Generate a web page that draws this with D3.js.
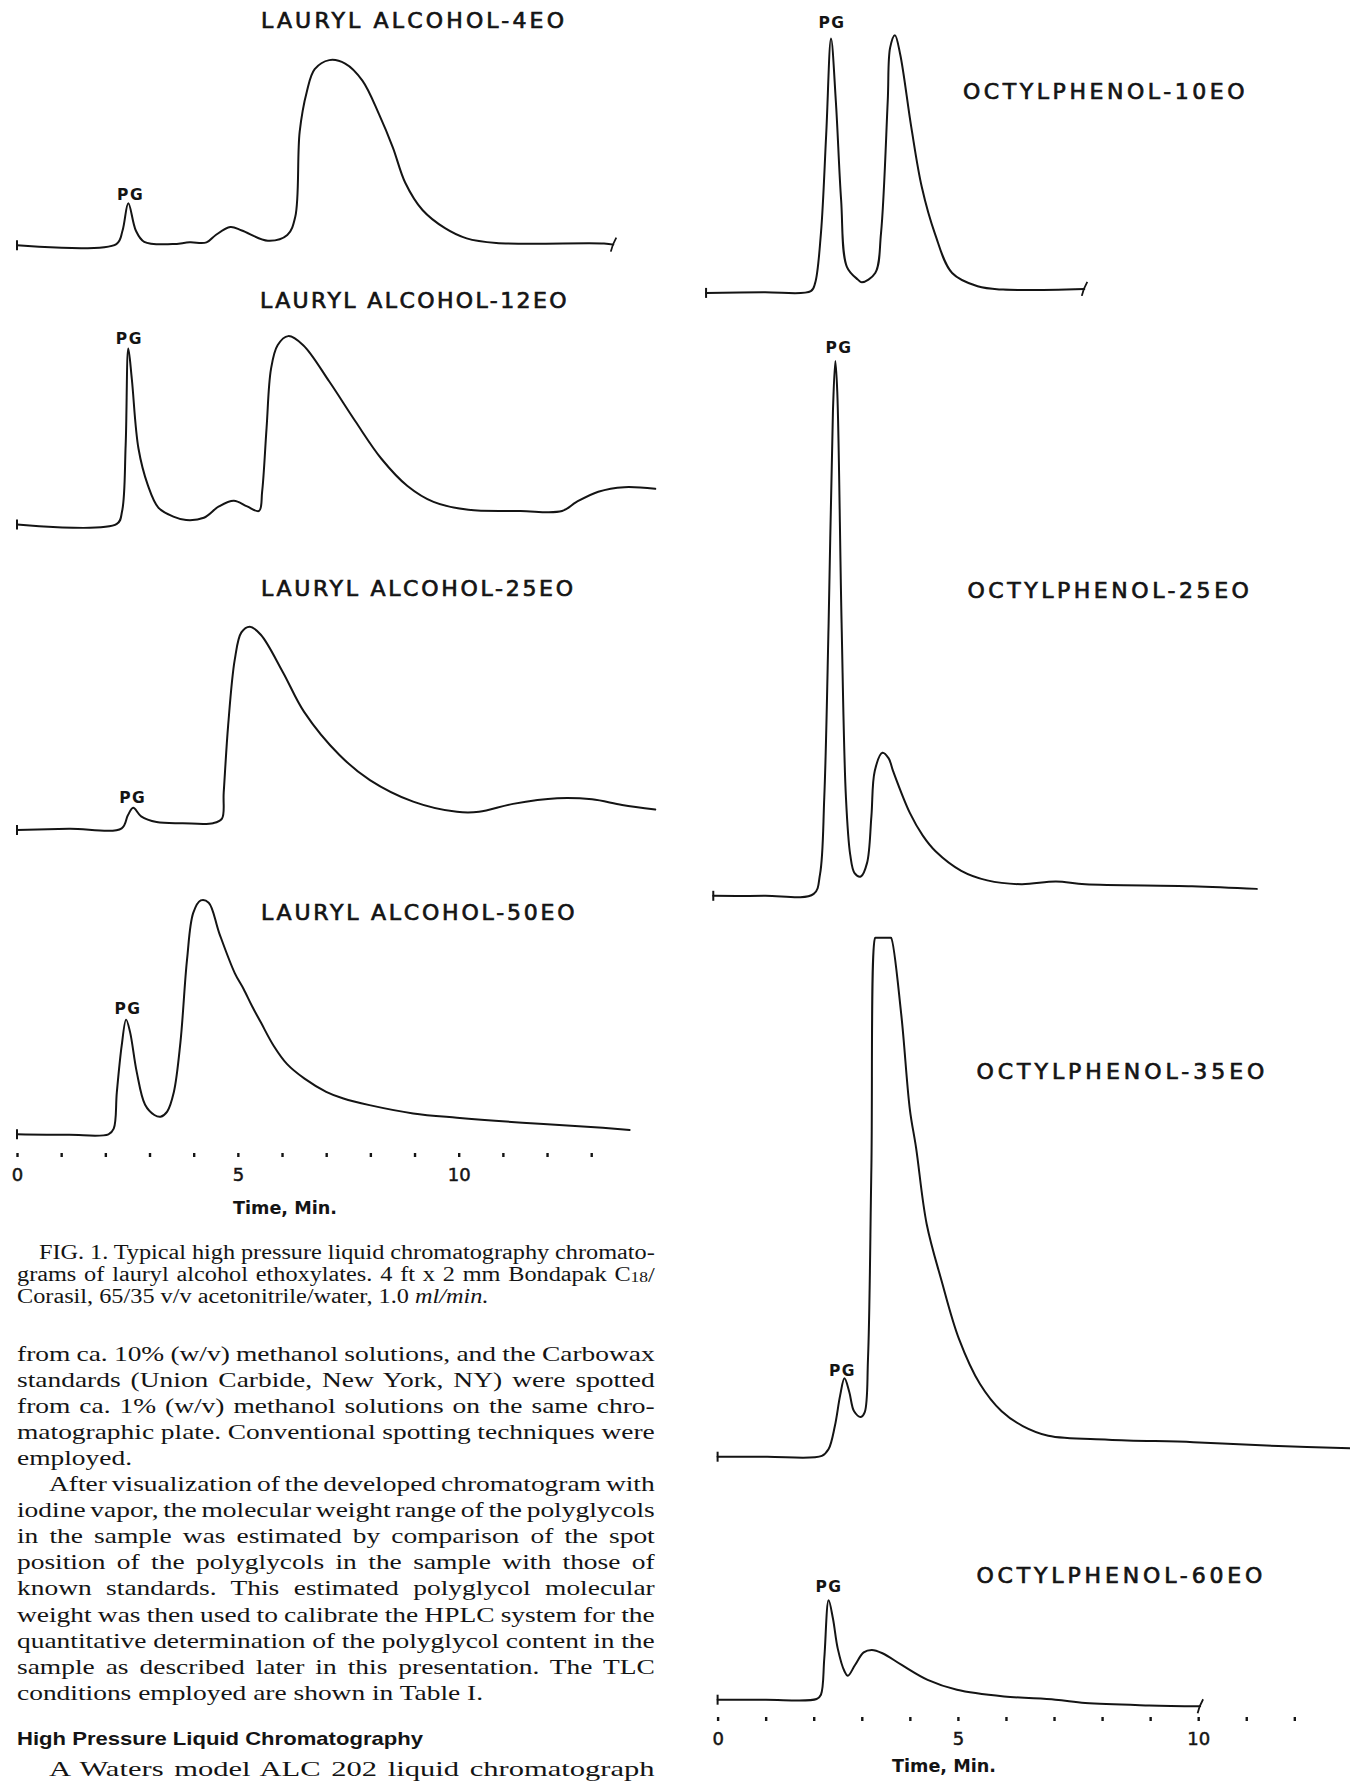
<!DOCTYPE html>
<html><head><meta charset="utf-8">
<script src="https://cdn.jsdelivr.net/npm/d3@7"></script>
<style>body{margin:0;background:#fff}svg{display:block}</style>
</head><body>
<script>
// ---------------- DATA : [time (min), detector response (arbitrary units)] ----------------
const la4EO = [[0,0],[2.25,1],[2.39,13],[2.52,37],[2.69,13],[2.88,3],[3.52,1],[3.91,2.5],[4.29,2.5],[4.50,9],[4.83,16],[5.09,13],[5.68,4],[6.12,9],[6.30,25],[6.40,100],[6.56,135],[6.74,155],[7.07,163],[7.43,160],[7.82,145],[8.20,115],[8.51,86],[8.79,55],[9.18,31],[9.69,15],[10.18,6],[10.85,2],[13.29,1.5],[13.50,0.5]];
const la12EO = [[0,0],[2.26,0.6],[2.38,12],[2.46,70],[2.52,155],[2.60,128],[2.75,67],[2.96,35],[3.20,15],[3.54,7],[3.83,4],[4.23,6],[4.57,16],[4.91,21],[5.21,16],[5.48,12],[5.55,29],[5.65,85],[5.75,137],[5.90,158],[6.14,166],[6.48,158],[7.07,126],[7.66,91],[8.25,58],[8.84,34],[9.43,20],[10.22,13],[11.40,12],[12.34,12],[12.67,20],[13.16,29],[13.75,33],[14.45,31.5]];
const la25EO = [[0,0],[1.18,1],[2.37,1.5],[2.51,13],[2.63,19.5],[2.81,12],[3.16,7],[3.75,6],[4.44,6],[4.64,10],[4.68,33],[4.78,92],[4.93,150],[5.08,174],[5.27,179],[5.52,172],[6.02,139],[6.50,104],[7.30,66],[7.99,44],[8.97,25],[9.96,16],[10.46,16],[11.23,23],[12.23,28],[13.02,27],[13.70,22],[14.45,18]];
const la50EO = [[0,0],[1.18,-0.5],[2.07,0],[2.19,5],[2.26,37],[2.37,78],[2.47,101],[2.56,90],[2.71,55],[2.90,26],[3.11,17],[3.25,15.5],[3.40,20],[3.55,37],[3.70,81],[3.85,154],[3.99,195],[4.16,206],[4.34,204],[4.58,177],[4.93,142],[5.13,128],[5.32,113],[5.52,98.6],[5.81,78],[6.11,62],[6.51,49],[7.00,37.4],[7.39,31.5],[7.98,25.7],[8.97,18.4],[9.96,14.6],[11.44,10.2],[12.90,6.7],[13.87,3.8]];
const op10EO = [[-0.24,0],[0.96,0.6],[1.94,1.5],[2.03,8.8],[2.15,52.5],[2.26,140],[2.36,224],[2.46,169],[2.57,82],[2.69,23],[2.92,11.7],[3.00,9.3],[3.28,17.5],[3.40,52.5],[3.54,169],[3.59,216],[3.69,227],[3.80,210],[4.03,146],[4.25,93],[4.52,52.5],[4.88,17.5],[5.41,5.8],[5.94,2.9],[7.63,3.5]];
const op25EO = [[-0.09,0],[0.97,0],[2.00,1.7],[2.13,18.7],[2.22,87],[2.31,240],[2.40,427],[2.45,471],[2.49,444],[2.58,240],[2.67,87],[2.76,36],[2.85,20],[2.98,17],[3.11,29],[3.20,70],[3.27,110],[3.43,126],[3.56,121],[3.65,110],[4.00,73],[4.27,53],[4.54,39],[5.07,22],[5.61,13.6],[6.32,10.2],[7.04,12.6],[7.65,10.2],[9.87,8.5],[11.22,6.1]];
const op35EO = [[0,0],[1.02,0],[2.17,0.7],[2.31,6.7],[2.44,27],[2.55,54],[2.64,69],[2.74,57],[2.84,40],[2.98,35],[3.06,39],[3.13,87],[3.20,255],[3.28,457],[3.30,457],[3.45,457],[3.59,457],[3.61,457],[3.82,390],[4.00,306],[4.13,272],[4.35,205],[4.66,155],[5.02,104],[5.46,64],[5.91,40],[6.35,27],[6.88,18.5],[8.13,15],[9.90,12.8],[11.67,9.4],[13.17,7.4]];
const op60EO = [[0,0],[0.99,0],[2.06,0.6],[2.15,4.4],[2.22,36.5],[2.31,87.5],[2.40,71.5],[2.50,45],[2.64,25],[2.71,21],[2.86,30.6],[3.04,41.7],[3.21,43.8],[3.43,40.9],[3.83,30.6],[4.37,17.5],[4.98,8.8],[5.96,2.9],[7.03,0],[7.65,-2.9],[8.98,-5],[10.04,-5.8]];

const leftTicks = d3.range(0, 14);
const rightTicks = d3.range(0, 13);
const tickLabelValues = [0, 5, 10];
const seriesNames = ["LAURYL ALCOHOL-4EO","LAURYL ALCOHOL-12EO","LAURYL ALCOHOL-25EO","LAURYL ALCOHOL-50EO",
                     "OCTYLPHENOL-10EO","OCTYLPHENOL-25EO","OCTYLPHENOL-35EO","OCTYLPHENOL-60EO"];
const peakLabel = "PG";
const axisTitle = "Time, Min.";

const captionLines = [
  [{t:"FIG. 1. Typical high pressure liquid chromatography chromato-"}],
  [{t:"grams of lauryl alcohol ethoxylates. 4 ft x 2 mm Bondapak C"},{t:"18",small:true},{t:"/"}],
  [{t:"Corasil, 65/35 v/v acetonitrile/water, 1.0 "},{t:"ml/min.",it:true}]
];
const captionJust = [true, true, false];
const bodyLines = [
  "from ca. 10% (w/v) methanol solutions, and the Carbowax",
  "standards (Union Carbide, New York, NY) were spotted",
  "from ca. 1% (w/v) methanol solutions on the same chro-",
  "matographic plate. Conventional spotting techniques were",
  "employed.",
  "After visualization of the developed chromatogram with",
  "iodine vapor, the molecular weight range of the polyglycols",
  "in the sample was estimated by comparison of the spot",
  "position of the polyglycols in the sample with those of",
  "known standards. This estimated polyglycol molecular",
  "weight was then used to calibrate the HPLC system for the",
  "quantitative determination of the polyglycol content in the",
  "sample as described later in this presentation. The TLC",
  "conditions employed are shown in Table I."
];
const bodyJust = [true,true,true,true,false,true,true,true,true,true,true,true,true,false];
const bodyIndent = [false,false,false,false,false,true,false,false,false,false,false,false,false,false];
const heading = "High Pressure Liquid Chromatography";
const lastLine = "A Waters model ALC 202 liquid chromatograph";

// ---------------- LAYOUT ----------------
const W = 1350, H = 1781, INK = "#141414";
const svg = d3.select("body").append("svg").attr("width", W).attr("height", H)
  .style("background", "#fff");

const xLeft = d3.scaleLinear().domain([0, 10]).range([17, 458.7]);
const xRight = d3.scaleLinear().domain([0, 10]).range([717.6, 1198.2]);
const gain = d3.scaleLinear().domain([0, 100]).range([0, 113.54]);

const panels = [
  {name:seriesNames[0], data:la4EO,  x:xLeft,  base:245.2,  tx:261,   tw:303,   ty:20.4,  pg:[130.6,194],  endSlash:true},
  {name:seriesNames[1], data:la12EO, x:xLeft,  base:524.6,  tx:260,   tw:306.6, ty:299.7, pg:[129.4,338]},
  {name:seriesNames[2], data:la25EO, x:xLeft,  base:830,    tx:261,   tw:312,   ty:588,   pg:[132.8,797]},
  {name:seriesNames[3], data:la50EO, x:xLeft,  base:1134.3, tx:261,   tw:313.5, ty:911.7, pg:[128,1008]},
  {name:seriesNames[4], data:op10EO, x:xRight, base:292.9,  tx:963,   tw:281.6, ty:90.8,  pg:[832,22.7],  endSlash:true},
  {name:seriesNames[5], data:op25EO, x:xRight, base:895.8,  tx:967.4, tw:281.5, ty:590,   pg:[839,347.4]},
  {name:seriesNames[6], data:op35EO, x:xRight, base:1456.7, tx:976.4, tw:288,   ty:1071,  pg:[842.5,1370]},
  {name:seriesNames[7], data:op60EO, x:xRight, base:1699.7, tx:976.4, tw:286,   ty:1575,  pg:[829,1586], endSlash:true}
];

panels.forEach(p => {
  const yOf = v => p.base - gain(v);
  const line = d3.line().x(d => p.x(d[0])).y(d => yOf(d[1])).curve(d3.curveCatmullRom.alpha(0.5));
  const g = svg.append("g");
  g.append("path").attr("d", line(p.data)).attr("fill","none")
    .attr("stroke", INK).attr("stroke-width", 2).attr("stroke-linejoin","round").attr("stroke-linecap","round");
  // start mark
  const s = p.data[0];
  g.append("line").attr("x1", p.x(s[0])).attr("x2", p.x(s[0]))
    .attr("y1", yOf(s[1]) - 5).attr("y2", yOf(s[1]) + 5)
    .attr("stroke", INK).attr("stroke-width", 2);
  if (p.endSlash) {
    const e = p.data[p.data.length - 1];
    const ex = p.x(e[0]), ey = yOf(e[1]);
    g.append("path").attr("d", `M${ex-2.5},${ey+7} Q${ex-1},${ey} ${ex+3},${ey-7}`)
      .attr("fill","none").attr("stroke", INK).attr("stroke-width", 1.8);
  }
  // title
  g.append("text").attr("x", p.tx).attr("y", p.ty + 8)
    .attr("font-family","DejaVu Sans").attr("font-size", 22)
    .attr("fill", INK).attr("stroke", INK).attr("stroke-width", 0.7)
    .attr("textLength", p.tw).attr("lengthAdjust","spacing")
    .text(p.name);
  // PG
  g.append("text").attr("x", p.pg[0]).attr("y", p.pg[1] + 5.5)
    .attr("text-anchor","middle").attr("font-family","DejaVu Sans").attr("font-weight","bold")
    .attr("font-size", 15.5).attr("letter-spacing", 1.5).attr("fill", INK)
    .text(peakLabel);
});

// axes
function drawAxis(scale, ticks, y, titleX, titleY) {
  const ax = d3.axisBottom(scale).tickValues(ticks).tickSize(4).tickPadding(11)
    .tickFormat(d => tickLabelValues.includes(d) ? String(d) : "");
  const g = svg.append("g").attr("transform", `translate(0,${y})`).call(ax);
  g.select(".domain").remove();
  g.selectAll(".tick line").attr("stroke", INK).attr("stroke-width", 2.4);
  g.selectAll(".tick text").attr("font-family","DejaVu Sans").attr("font-size", 18)
    .attr("fill", INK).attr("stroke", INK).attr("stroke-width", 0.5);
  svg.append("text").attr("x", titleX).attr("y", titleY + 6)
    .attr("text-anchor","middle").attr("font-family","DejaVu Sans").attr("font-weight","bold")
    .attr("font-size", 17).attr("fill", INK).attr("textLength", 104).attr("lengthAdjust","spacingAndGlyphs")
    .text(axisTitle);
}
drawAxis(xLeft, leftTicks, 1153, 285, 1208);
drawAxis(xRight, rightTicks, 1717, 944, 1766);

// ---------------- TEXT ----------------
const colL = 17, colR = 655;
function setLine(sel, segs, fs) {
  segs.forEach(s => {
    const ts = sel.append("tspan").text(s.t);
    if (s.small) ts.attr("font-size", fs * 0.72).attr("dy", 1);
    if (s.it) ts.attr("font-style","italic");
  });
}
function typeset(lines, just, indents, fs, y0, step, indentX) {
  const nodes = lines.map((segs, i) => {
    const t = svg.append("text").attr("font-family","Liberation Serif").attr("font-size", fs)
      .attr("fill", INK);
    setLine(t, segs, fs);
    return t;
  });
  const ratios = [];
  nodes.forEach((t, i) => {
    const w0 = t.node().getComputedTextLength();
    const x0 = indents[i] ? indentX : colL;
    if (just[i]) ratios.push((colR - x0) / w0);
  });
  ratios.sort((a,b)=>a-b);
  const k = ratios[Math.floor(ratios.length/2)] * 0.97;
  nodes.forEach((t, i) => {
    const w0 = t.node().getComputedTextLength();
    const x0 = indents[i] ? indentX : colL;
    const y = y0 + i * step;
    t.attr("transform", `translate(${x0},${y}) scale(${k},1)`);
    if (just[i]) {
      const txt = t.text();
      const n = (txt.match(/ /g) || []).length;
      const ws = ((colR - x0) / k - w0) / Math.max(n, 1);
      t.attr("word-spacing", ws);
    }
  });
  return k;
}
typeset(captionLines, captionJust, [true,false,false], 20, 1259, 21.8, 39);
typeset(bodyLines.map(s => [{t:s}]), bodyJust, bodyIndent, 22, 1360.5, 26.1, 49);

svg.append("text").attr("x", colL).attr("y", 1744.5)
  .attr("font-family","Liberation Sans").attr("font-weight","bold").attr("font-size", 19)
  .attr("fill", INK).attr("textLength", 406).attr("lengthAdjust","spacingAndGlyphs")
  .text(heading);

typeset([[{t:lastLine}]], [true], [true], 22, 1776, 26, 49);
</script>
</body></html>
